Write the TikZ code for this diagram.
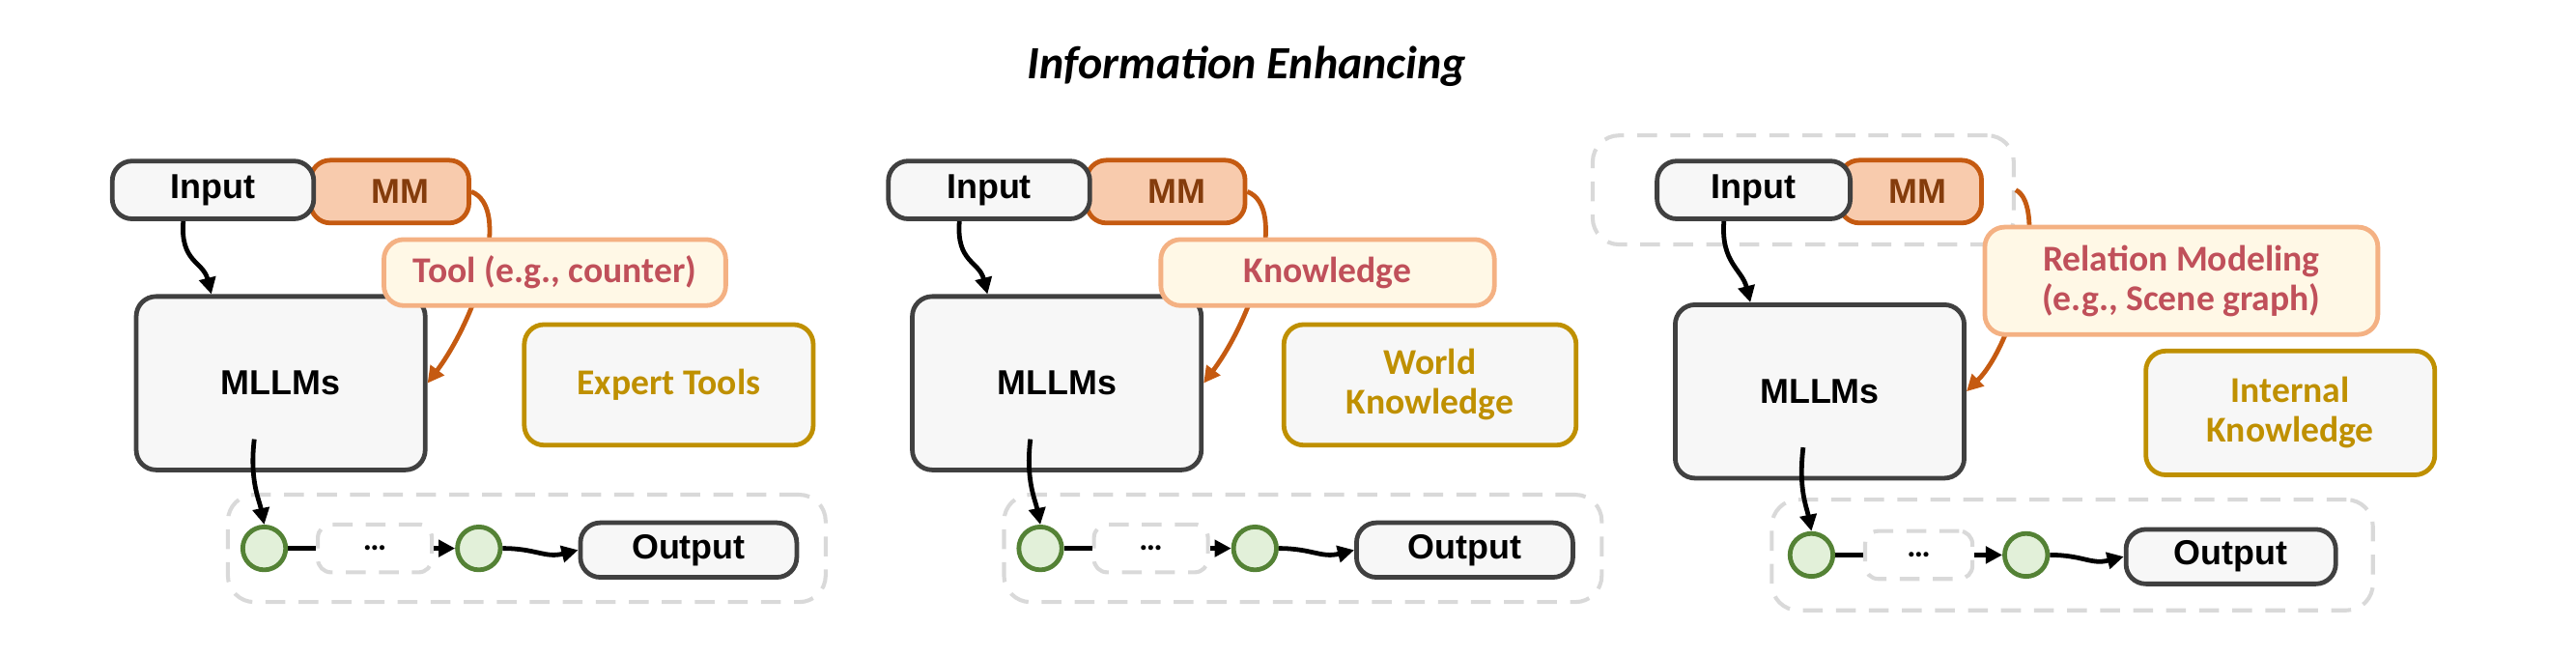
\documentclass[tikz,border=0pt]{standalone}
\usepackage{fontspec}
\setmainfont{Carlito}
\newfontfamily\arl{Liberation Sans}
\usetikzlibrary{arrows.meta}
\definecolor{bx}{HTML}{404040}\definecolor{bxf}{HTML}{F7F7F7}
\definecolor{mmf}{HTML}{F8CBAD}\definecolor{mmd}{HTML}{C55A11}\definecolor{mmt}{HTML}{843C0C}
\definecolor{lbf}{HTML}{FFF8E6}\definecolor{lbd}{HTML}{F4B183}\definecolor{lbt}{HTML}{C0505A}
\definecolor{gd}{HTML}{BF9000}\definecolor{cf}{HTML}{E2F0D9}\definecolor{cd}{HTML}{548235}
\definecolor{dsh}{HTML}{D9D9D9}
\begin{document}
\begin{tikzpicture}[x=0.5pt,y=-0.5pt,
 base/.style={rounded corners=6pt,line width=1.4pt,font=\fontsize{11}{12}\selectfont\bfseries,align=center,inner sep=0pt},
 box/.style={base,draw=bx,fill=bxf,font=\fontsize{10.5}{12}\selectfont\arl\bfseries},
 mm/.style={base,draw=mmd,fill=mmf,text=mmt,font=\fontsize{10.5}{12}\selectfont\arl\bfseries},
 lab/.style={base,draw=lbd,fill=lbf,text=lbt},
 gold/.style={base,draw=gd,fill=bxf,text=gd},
 reg/.style={rounded corners=8pt,draw=dsh,line width=1.2pt,dash pattern=on 6pt off 4pt,inner sep=0pt},
 circ/.style={circle,draw=cd,fill=cf,line width=1.4pt,minimum size=13pt,inner sep=0pt},
 ar/.style={-{Triangle[length=5pt,width=5pt]},line width=1.4pt},
 oar/.style={ar,color=mmd}]
\useasboundingbox (0,0) rectangle (1560,397);
\node[font=\fontsize{14}{15}\selectfont\itshape\bfseries] (title) at (755,40) {Information Enhancing};
% ---------- panel 1
\node[mm,minimum width=48pt,minimum height=19pt,text width=24pt,align=right] (mm1) at (236,116) {MM};
\node[box,minimum width=61pt,minimum height=17.5pt] (in1) at (129,115) {Input};
\node[box,minimum width=87.5pt,minimum height=52.5pt] (ml1) at (170,232) {MLLMs};
\draw[oar] (mm1.east) .. controls +(25,10) and +(30,-40) .. (ml1.east);
\node[lab,minimum width=103.5pt,minimum height=20pt] (t1) at (336,165) {Tool (e.g., counter)};
\node[gold,minimum width=87.5pt,minimum height=36.5pt] (e1) at (405,233) {Expert Tools};
\node[reg,minimum width=181pt,minimum height=32.5pt] (r1) at (319,332) {};
\node[circ] (a1) at (160,332) {};
\node[reg,rounded corners=4pt,minimum width=34.5pt,minimum height=14.5pt,font=\bfseries] (d1) at (227,332) {\dots};
\node[circ] (b1) at (290,332) {};
\node[box,minimum width=65.5pt,minimum height=16.5pt] (o1) at (417,333) {Output};
\draw[ar] ([xshift=-9pt]in1.south) .. controls +(-2,25) and +(-5,-20) .. ([xshift=-21pt]ml1.north);
\draw[ar] ([xshift=-8pt,yshift=10pt]ml1.south) .. controls +(-3,25) and +(-3,-15) .. (a1.north);
\draw[line width=1.4pt] (a1.east) -- (d1.west);
\draw[ar] (d1.east) -- (b1.west);
\draw[ar] (b1.east) .. controls +(20,0) and +(-20,5) .. (o1.west);
% ---------- panel 2
\node[mm,minimum width=48pt,minimum height=19pt,text width=24pt,align=right] (mm2) at (706,116) {MM};
\node[box,minimum width=61pt,minimum height=17.5pt] (in2) at (599,115) {Input};
\node[box,minimum width=87.5pt,minimum height=52.5pt] (ml2) at (640,232) {MLLMs};
\draw[oar] (mm2.east) .. controls +(25,10) and +(30,-40) .. (ml2.east);
\node[lab,minimum width=101pt,minimum height=20pt] (t2) at (804,165) {Knowledge};
\node[gold,minimum width=88.5pt,minimum height=36.5pt] (e2) at (866,233) {World\\Knowledge};
\node[reg,minimum width=181pt,minimum height=32.5pt] (r2) at (789,332) {};
\node[circ] (a2) at (630,332) {};
\node[reg,rounded corners=4pt,minimum width=34.5pt,minimum height=14.5pt,font=\bfseries] (d2) at (697,332) {\dots};
\node[circ] (b2) at (760,332) {};
\node[box,minimum width=65.5pt,minimum height=16.5pt] (o2) at (887,333) {Output};
\draw[ar] ([xshift=-9pt]in2.south) .. controls +(-2,25) and +(-5,-20) .. ([xshift=-21pt]ml2.north);
\draw[ar] ([xshift=-8pt,yshift=10pt]ml2.south) .. controls +(-3,25) and +(-3,-15) .. (a2.north);
\draw[line width=1.4pt] (a2.east) -- (d2.west);
\draw[ar] (d2.east) -- (b2.west);
\draw[ar] (b2.east) .. controls +(20,0) and +(-20,5) .. (o2.west);
% ---------- panel 3
\node[reg,minimum width=127.5pt,minimum height=33pt] (g3) at (1092,115) {};
\node[mm,minimum width=43pt,minimum height=19pt,text width=22pt,align=right] (mm3) at (1157,116) {MM};
\node[box,minimum width=58.5pt,minimum height=17.5pt] (in3) at (1062,115) {Input};
\node[box,minimum width=87.5pt,minimum height=52.5pt] (ml3) at (1102,237) {MLLMs};
\draw[oar] (g3.east) .. controls +(20,10) and +(30,-30) .. (ml3.east);
\node[lab,minimum width=119pt,minimum height=32.5pt] (t3) at (1321,170) {Relation Modeling\\(e.g., Scene graph)};
\node[gold,minimum width=87.5pt,minimum height=37.5pt] (e3) at (1387,250) {Internal\\Knowledge};
\node[reg,minimum width=182pt,minimum height=33.5pt] (r3) at (1255,336) {};
\node[circ] (a3) at (1097,336) {};
\node[reg,rounded corners=4pt,minimum width=32.5pt,minimum height=14.5pt,font=\bfseries] (d3) at (1162,336) {\dots};
\node[circ] (b3) at (1227,336) {};
\node[box,minimum width=63.5pt,minimum height=16.5pt] (o3) at (1351,337) {Output};
\draw[ar] ([xshift=-9pt]in3.south) .. controls +(-2,25) and +(-5,-20) .. ([xshift=-21pt]ml3.north);
\draw[ar] ([xshift=-5pt,yshift=10pt]ml3.south) .. controls +(-3,25) and +(-3,-15) .. (a3.north);
\draw[line width=1.4pt] (a3.east) -- (d3.west);
\draw[ar] (d3.east) -- (b3.west);
\draw[ar] (b3.east) .. controls +(20,0) and +(-20,5) .. (o3.west);
\end{tikzpicture}
\end{document}
